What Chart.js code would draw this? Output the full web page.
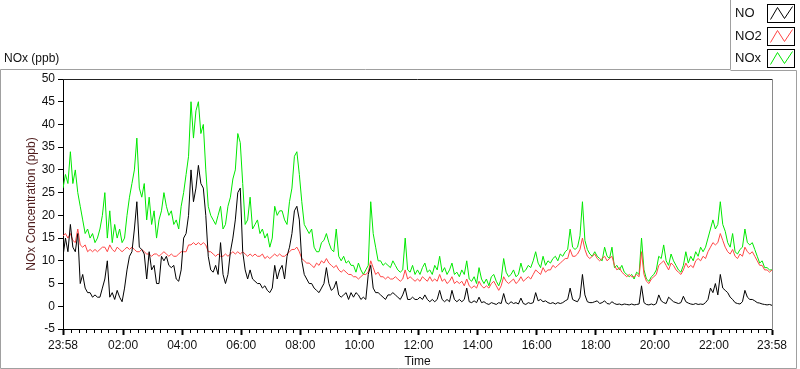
<!DOCTYPE html>
<html>
<head>
<meta charset="utf-8">
<script src="https://cdn.jsdelivr.net/npm/chart.js@4.4.1/dist/chart.umd.min.js"></script>
<style>
  html, body { margin: 0; padding: 0; background: #fff; }
  canvas { display: block; }
</style>
</head>
<body>
<canvas id="noxChart" width="800" height="369"></canvas>
<script>
// One day of 5-minute readings, starting 23:58 (minute 0) and ending 23:58 (minute 1440)
const stepMin = 5;
const tickMinutes = [0, 122, 242, 362, 482, 602, 722, 842, 962, 1082, 1202, 1322, 1440];
const tickLabels = ['23:58', '02:00', '04:00', '06:00', '08:00', '10:00', '12:00', '14:00', '16:00', '18:00', '20:00', '22:00', '23:58'];
const seriesNames = ['NO', 'NO2', 'NOx'];

const no = [
  11, 15, 12, 18, 13, 12, 16, 5, 7, 4, 3, 3,
  2, 2.5, 2, 2, 4, 6, 10, 2, 3, 1.5, 3.5, 2,
  1, 4, 8, 11, 12, 17, 23, 13, 12.5, 11.5, 6, 12,
  8, 9, 5, 5, 11, 10, 11, 9, 8.5, 9, 6, 5.5,
  8, 15, 16, 20, 30, 23, 26, 31, 27, 26, 20, 11,
  8, 7.5, 9, 7, 14, 7, 5, 7, 12, 15, 19, 25,
  26, 12, 8, 6, 8, 6, 5.5, 5, 5, 4, 4.5, 3.5,
  3, 4, 9, 6, 8, 9, 6, 11, 13, 16, 21, 22,
  19, 10, 7, 6, 5, 5, 4, 3.5, 3, 4, 5, 8.5,
  5, 3.5, 4, 5.5, 2.5, 2, 2.5, 3, 1.5, 3, 2, 3,
  2.5, 1.5, 2, 1.5, 7, 9, 4, 3, 3, 2.5, 2, 1.5,
  2.5, 2.5, 3, 2.5, 2, 1.5, 2.5, 4, 1.5, 1.5, 2, 1.5,
  1.5, 2, 1.5, 2.5, 1.5, 1, 1.5, 1, 1.5, 3.5, 1.5, 1,
  1.5, 1, 3.5, 1.5, 1, 1.5, 1, 1.5, 4, 1, 0.8, 1.2,
  0.8, 2, 0.8, 1, 0.6, 0.4, 0.8, 0.6, 0.4, 0.8, 0.6, 2.8,
  0.8, 0.5, 1, 0.6, 0.8, 0.5, 1.8, 0.6, 0.4, 0.8, 0.6, 0.8,
  3, 1.2, 1.5, 1, 1.2, 0.8, 0.6, 0.8, 0.5, 0.8, 0.6, 0.8,
  1.2, 1.5, 4, 1.5, 1.2, 1, 2, 7, 2.5, 1, 0.8, 0.8,
  1, 1.2, 0.6, 0.8, 1.2, 0.6, 0.5, 1, 0.6, 0.4, 0.5, 0.3,
  0.5, 0.4, 0.3, 0.5, 0.3, 0.4, 0.5, 4.5, 0.8, 0.4, 0.3, 0.5,
  0.3, 0.6, 2.5, 1.2, 0.8, 0.6, 2, 1.5, 1, 0.8, 0.6, 0.8,
  2.2, 1, 0.7, 0.5, 0.4, 0.6, 0.4, 0.5, 0.4, 0.8, 1.5, 4,
  3, 5, 2.5, 7, 4, 3.5, 3, 2, 1.5, 0.8, 0.6, 0.5,
  1, 3.5, 2, 1.5, 1.5, 1.2, 0.8, 0.7, 0.5, 0.4, 0.3, 0.4,
  0.2
];

const no2 = [
  15.5, 16, 15, 16, 14.5, 14, 17, 13.5, 13, 13.5, 12, 12.5,
  12, 12.5, 12, 12.5, 13, 13, 12, 13.5, 12.5, 12, 13, 12.5,
  12, 12.5, 13, 12.5, 13, 12.5, 12, 12, 12.5, 12, 11.5, 11.5,
  11, 11.5, 11.5, 11, 11.5, 12, 11.5, 11, 11.5, 11, 11, 11.5,
  12, 12, 12, 13.5, 13.5, 14, 13.5, 14, 13.5, 14, 13.5, 12,
  12, 11.5, 11, 11.5, 11, 11, 11.5, 11, 11.5, 12, 11.5, 12,
  11.5, 12, 11.5, 11, 11.5, 11, 11.5, 11, 11, 11.5, 10.5, 11,
  10.5, 11, 11.5, 11, 11.5, 11, 11, 11.5, 12, 12.5, 12.5, 13,
  12, 10.5, 10, 9.5, 9.5, 9, 8.5, 9.5, 9, 10, 9.5, 10.5,
  9.5, 9, 8.5, 9, 8, 7.5, 8, 7.5, 7, 7, 6.5, 6.5,
  6, 6.5, 7, 7, 7.5, 10, 8.5, 7, 7.5, 6.5, 6.5, 6,
  6.5, 6, 6, 6.5, 6, 5.5, 6, 8, 6, 6.5, 6, 5.5,
  6, 5.5, 6.5, 6, 5.5, 6.5, 5.5, 6, 5.5, 7, 5.5, 6,
  5, 5.5, 6.5, 5, 5.5, 5, 5.5, 4.5, 6, 4.5, 4, 4.5,
  4, 5.5, 4.5, 4, 4.5, 4, 5, 5.5, 4.5, 3.5, 4.5, 6.5,
  5.5, 5, 5.5, 6, 5, 5.5, 6.5, 5.5, 6, 6.5, 6, 7,
  8, 7.5, 7, 8.5, 7.5, 8, 8, 9, 8.5, 9, 9.5, 10,
  10.5, 10.5, 12.5, 11, 11, 11.5, 12.5, 15, 12.5, 11, 10.5, 11,
  11.5, 10.5, 10, 10.5, 11, 10, 10.5, 11, 9, 8, 8.5, 7.5,
  7, 6.5, 7, 6.5, 6.5, 7, 6.5, 12, 7, 5.5, 5, 6,
  6.5, 7, 9, 9.5, 10, 9, 8, 9.5, 9, 8, 7.5, 7,
  8, 9.5, 8.5, 9, 8.5, 10, 10.5, 10, 11, 10.5, 12, 13,
  14, 13.5, 14, 16, 14.5, 13, 12, 11.5, 12.5, 11, 10.5, 11.5,
  11, 13, 12, 11.5, 12, 11, 10, 9, 9, 8, 8, 7.5,
  8
];

const nox = [
  26, 29, 27, 34, 27, 30, 25, 22, 19, 16, 17, 15,
  16, 14, 15, 17, 20, 25, 15, 21, 14, 18, 15, 17,
  14, 15, 20, 24, 27, 30, 37, 26, 24, 27, 19, 24,
  18, 21, 15, 19, 21, 25, 22, 20, 21, 18, 19, 17,
  22, 25, 29, 33, 45, 37, 43, 45, 38, 40, 30, 22,
  20, 19, 18, 20, 22, 17, 18, 22, 24, 28, 30, 38,
  36, 27, 18, 19, 24, 17, 18, 19, 16, 17, 15, 16,
  13, 15, 22, 20, 21, 21, 19, 18, 23, 26, 33, 34,
  29, 23, 18, 17, 16, 17, 13, 12, 12, 14, 14.5, 16,
  14, 12.5, 12, 17, 11, 10, 11, 9.5, 10, 9, 9, 7.5,
  9.5, 8, 7, 8, 9, 23, 16, 13, 10, 10, 9, 9.5,
  9, 8.5, 10, 9, 8, 7.5, 8, 15, 8, 7.5, 9, 7,
  8, 7, 8.5, 9.5, 7.5, 8, 7, 9, 8, 11, 7.5, 8.5,
  7, 8, 9.5, 7, 7.5, 6.5, 8, 7, 10, 6, 5.5, 6.5,
  5, 8.5, 6, 5, 6, 4.5, 6.5, 7, 5.5, 4.5, 6, 10.5,
  7.5, 6.5, 7, 8, 6.5, 7, 9.5, 7.5, 8, 9, 8.5, 10,
  12, 9.5, 8.5, 11, 9, 10, 9.5, 10.5, 11, 10, 11.5, 11,
  12, 12.5, 17, 13, 12.5, 13, 15.5, 23, 14.5, 12.5, 11.5, 11,
  12, 11, 10.5, 10, 13, 11, 10.5, 13, 8.5, 9, 8, 9,
  7.5, 7, 6.5, 7, 6, 7.5, 7, 15, 8, 6, 5.5, 6.5,
  7, 8, 11, 10.5, 13.5, 10, 9, 11.5, 10, 9, 8, 7.5,
  9, 12, 9.5, 11, 10, 12, 11, 13, 12, 13, 15, 17,
  19, 17, 18, 23, 18, 16.5, 14, 13, 16, 12, 11.5, 12.5,
  13, 17, 14, 13.5, 14, 12.5, 11, 9.5, 10, 8.5, 8.5, 8,
  8
];

const seriesColors = ['#000000', '#ff4444', '#00e800'];
const fontFamily = '"Liberation Sans", Arial, sans-serif';

const toPoints = vals => vals.map((v, i) => ({ x: i * stepMin, y: v }));

// frame, legend box, top label and minor time ticks (LabVIEW style)
const decorations = {
  id: 'decorations',
  afterDraw(chart) {
    const { ctx, chartArea: a } = chart;
    const xs = chart.scales.x;
    ctx.save();

    // minor ticks every 15 minutes
    ctx.strokeStyle = '#000';
    ctx.lineWidth = 1;
    ctx.beginPath();
    for (let m = 17; m < 1440; m += 15) {
      if (tickMinutes.includes(m)) continue;
      const px = Math.round(xs.getPixelForValue(m)) + 0.5;
      ctx.moveTo(px, a.bottom + 1);
      ctx.lineTo(px, a.bottom + 4);
    }
    ctx.stroke();

    // top and right edges of the plot area
    ctx.beginPath();
    ctx.strokeStyle = '#222';
    ctx.moveTo(a.left, Math.round(a.top) + 0.5);
    ctx.lineTo(a.right, Math.round(a.top) + 0.5);
    ctx.stroke();
    ctx.beginPath();
    ctx.strokeStyle = '#8a8a8a';
    ctx.moveTo(Math.round(a.right) + 0.5, a.top);
    ctx.lineTo(Math.round(a.right) + 0.5, a.bottom + 1);
    ctx.stroke();

    // outer panel frame
    ctx.strokeStyle = '#a0a0a0';
    ctx.beginPath();
    ctx.moveTo(0.5, 368.5);
    ctx.lineTo(0.5, 69.5);
    ctx.lineTo(730.5, 69.5);
    ctx.lineTo(730.5, 0);
    ctx.moveTo(730.5, 70.5);
    ctx.lineTo(796.5, 70.5);
    ctx.lineTo(796.5, 368.5);
    ctx.lineTo(0.5, 368.5);
    ctx.stroke();

    // panel caption
    ctx.fillStyle = '#111';
    ctx.font = '12px ' + fontFamily;
    ctx.textBaseline = 'middle';
    ctx.textAlign = 'left';
    ctx.fillText('NOx (ppb)', 4, 59);

    // legend
    chart.data.datasets.forEach((ds, i) => {
      const top = 4 + i * 22.5;
      ctx.fillStyle = '#111';
      ctx.font = '13px ' + fontFamily;
      ctx.fillText(seriesNames[i], 735, top + 9.5);
      ctx.strokeStyle = '#000';
      ctx.lineWidth = 1;
      ctx.strokeRect(767.5, Math.round(top) + 0.5, 27, 18);
      const bx = 767.5, by = Math.round(top) + 0.5;
      ctx.strokeStyle = ds.borderColor;
      ctx.beginPath();
      ctx.moveTo(bx + 3, by + 15);
      ctx.lineTo(bx + 10, by + 3);
      ctx.lineTo(bx + 17, by + 14);
      ctx.lineTo(bx + 25, by + 2);
      ctx.stroke();
    });

    ctx.restore();
  }
};

const ctx = document.getElementById('noxChart').getContext('2d');
new Chart(ctx, {
  type: 'line',
  data: {
    datasets: [
      { label: seriesNames[0], data: toPoints(no), borderColor: seriesColors[0], borderWidth: 1 },
      { label: seriesNames[1], data: toPoints(no2), borderColor: seriesColors[1], borderWidth: 1 },
      { label: seriesNames[2], data: toPoints(nox), borderColor: seriesColors[2], borderWidth: 1 }
    ]
  },
  options: {
    responsive: false,
    animation: false,
    devicePixelRatio: 1,
    elements: { point: { radius: 0 }, line: { tension: 0 } },
    layout: { padding: { top: 79, right: 28, left: 0, bottom: 0 } },
    plugins: { legend: { display: false }, tooltip: { enabled: false } },
    scales: {
      x: {
        type: 'linear',
        min: 0,
        max: 1440,
        afterBuildTicks: s => { s.ticks = tickMinutes.map(v => ({ value: v })); },
        afterFit: s => { s.height = 40; },
        ticks: {
          autoSkip: false,
          maxRotation: 0,
          padding: 3,
          color: '#111',
          font: { family: fontFamily, size: 12 },
          callback: v => tickLabels[tickMinutes.indexOf(v)]
        },
        grid: { drawOnChartArea: false, tickLength: 6, tickWidth: 2, tickColor: '#000' },
        border: { color: '#000', width: 1 },
        title: {
          display: true, text: 'Time', color: '#111',
          font: { family: fontFamily, size: 12 },
          padding: { top: 0, bottom: 0 }
        }
      },
      y: {
        min: -5,
        max: 50,
        afterFit: s => { s.width = 63; },
        ticks: {
          stepSize: 5,
          padding: 3,
          color: '#111',
          font: { family: fontFamily, size: 12 }
        },
        grid: { drawOnChartArea: false, tickLength: 5, tickColor: '#000' },
        border: { color: '#000', width: 1 },
        title: {
          display: true, text: 'NOx Concentration (ppb)', color: '#4e1c1c',
          font: { family: fontFamily, size: 12 },
          padding: { top: 24, bottom: 0 }
        }
      }
    }
  },
  plugins: [decorations]
});
</script>
</body>
</html>
